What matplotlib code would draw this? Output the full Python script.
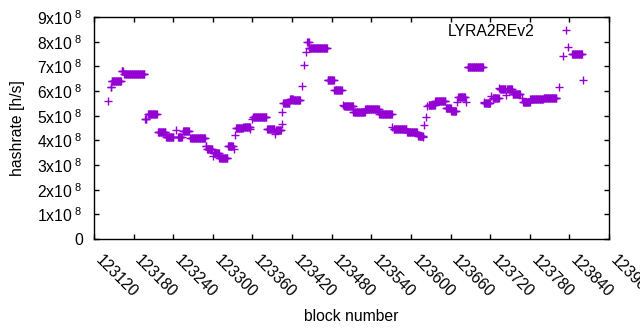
import numpy as np
import matplotlib
matplotlib.use("Agg")
import matplotlib.pyplot as plt
import matplotlib.transforms as mtransforms

# hashrate runs: first block, last block, value (x10^8 h/s)
run_start = [123141, 123145, 123147, 123162, 123166, 123197, 123202, 123217,
             123229, 123244, 123247, 123255, 123266, 123289, 123291, 123300,
             123301, 123310, 123323, 123332, 123334, 123335, 123346, 123357,
             123360, 123361, 123382, 123394, 123396, 123404, 123405, 123407,
             123417, 123422, 123435, 123438, 123441, 123443, 123446, 123474,
             123484, 123497, 123499, 123513, 123514, 123531, 123552, 123572,
             123574, 123594, 123611, 123619, 123620, 123623, 123625, 123627,
             123637, 123653, 123661, 123670, 123672, 123684, 123686, 123710,
             123711, 123721, 123724, 123734, 123735, 123744, 123746, 123754,
             123768, 123770, 123781, 123801, 123825, 123831, 123838, 123844,
             123860]
run_end = [123141, 123146, 123161, 123164, 123196, 123199, 123215, 123228,
           123240, 123244, 123253, 123264, 123288, 123290, 123299, 123300,
           123309, 123322, 123330, 123332, 123334, 123345, 123356, 123357,
           123360, 123381, 123393, 123394, 123403, 123404, 123405, 123416,
           123421, 123432, 123435, 123438, 123441, 123445, 123473, 123483,
           123495, 123497, 123512, 123513, 123530, 123551, 123571, 123572,
           123593, 123609, 123618, 123619, 123620, 123623, 123625, 123636,
           123652, 123660, 123668, 123670, 123682, 123684, 123709, 123710,
           123720, 123721, 123733, 123734, 123743, 123744, 123753, 123765,
           123768, 123780, 123800, 123820, 123825, 123831, 123838, 123859,
           123860]
run_value = [5.59, 6.15, 6.40, 6.82, 6.68, 4.85, 5.05, 4.32,
             4.13, 4.42, 4.13, 4.37, 4.09, 3.76, 3.64, 3.37,
             3.50, 3.27, 3.78, 3.65, 4.22, 4.52, 4.56, 4.45,
             4.86, 4.93, 4.45, 4.24, 4.42, 4.66, 5.13, 5.50,
             5.69, 5.65, 6.20, 7.04, 7.57, 7.97, 7.73, 6.43,
             6.03, 5.43, 5.40, 5.13, 5.16, 5.27, 5.05, 4.55,
             4.47, 4.33, 4.19, 4.12, 4.62, 4.93, 5.39, 5.43,
             5.61, 5.32, 5.18, 5.57, 5.74, 5.57, 6.96, 5.57,
             5.53, 5.81, 5.73, 6.11, 6.08, 5.84, 6.09, 5.88,
             5.70, 5.57, 5.68, 5.70, 6.15, 7.42, 7.77, 7.51,
             6.45]

x_ticks = list(range(123120, 123901, 60))
y_ticks = [i * 1e8 for i in range(10)]
y_labels = ["0"] + [f"{i}x10$^{{\\ 8}}$" for i in range(1, 10)]


def expand_runs():
    blocks = np.concatenate([np.arange(s, e + 1) for s, e in zip(run_start, run_end)])
    rates = np.concatenate([np.full(e - s + 1, v) for s, e, v in zip(run_start, run_end, run_value)])
    return blocks, rates * 1e8


def plot_hashrate(blocks, rates):
    plt.rcParams['font.family'] = ['Liberation Sans', 'DejaVu Sans']
    plt.rcParams['mathtext.default'] = 'regular'

    fig = plt.figure(figsize=(6.4, 3.3), dpi=100)
    ax = fig.add_axes([94 / 640, 1 - 239 / 330, 515 / 640, 222 / 330])

    ax.plot(blocks, rates, linestyle='none', marker='+', markersize=6.3,
            markeredgewidth=1.0, color='#9400D3', label='LYRA2REv2')

    ax.set_xlim(123120, 123900)
    ax.set_ylim(0, 9e8)
    ax.set_xticks(x_ticks)
    ax.set_xticklabels([str(t) for t in x_ticks], rotation=-45, ha='left',
                       va='top', rotation_mode='anchor', fontsize=11.3)
    ax.set_yticks(y_ticks)
    ax.set_yticklabels(y_labels, fontsize=11.3)

    ax.tick_params(direction='in', top=True, right=True, length=3.5, width=1.0)
    ax.tick_params(axis='x', pad=10)
    ax.tick_params(axis='y', pad=8)
    for sp in ax.spines.values():
        sp.set_linewidth(1.0)

    # gnuplot puts the rotated labels a little right of the tick
    shift = mtransforms.ScaledTranslation(9 / 100, 0, fig.dpi_scale_trans)
    for lab in ax.get_xticklabels():
        lab.set_transform(lab.get_transform() + shift)

    ax.set_xlabel("block number", fontsize=11.3, labelpad=6)
    ax.set_ylabel("hashrate [h/s]", fontsize=11.3, labelpad=9)

    ax.legend(loc='center right', bbox_to_anchor=(0.94, 0.935), frameon=False,
              markerfirst=False, fontsize=11.3, handlelength=1.5,
              handletextpad=1.3, borderpad=0, borderaxespad=0)

    fig.savefig("out.png", dpi=100)


if __name__ == "__main__":
    blocks, rates = expand_runs()
    plot_hashrate(blocks, rates)
